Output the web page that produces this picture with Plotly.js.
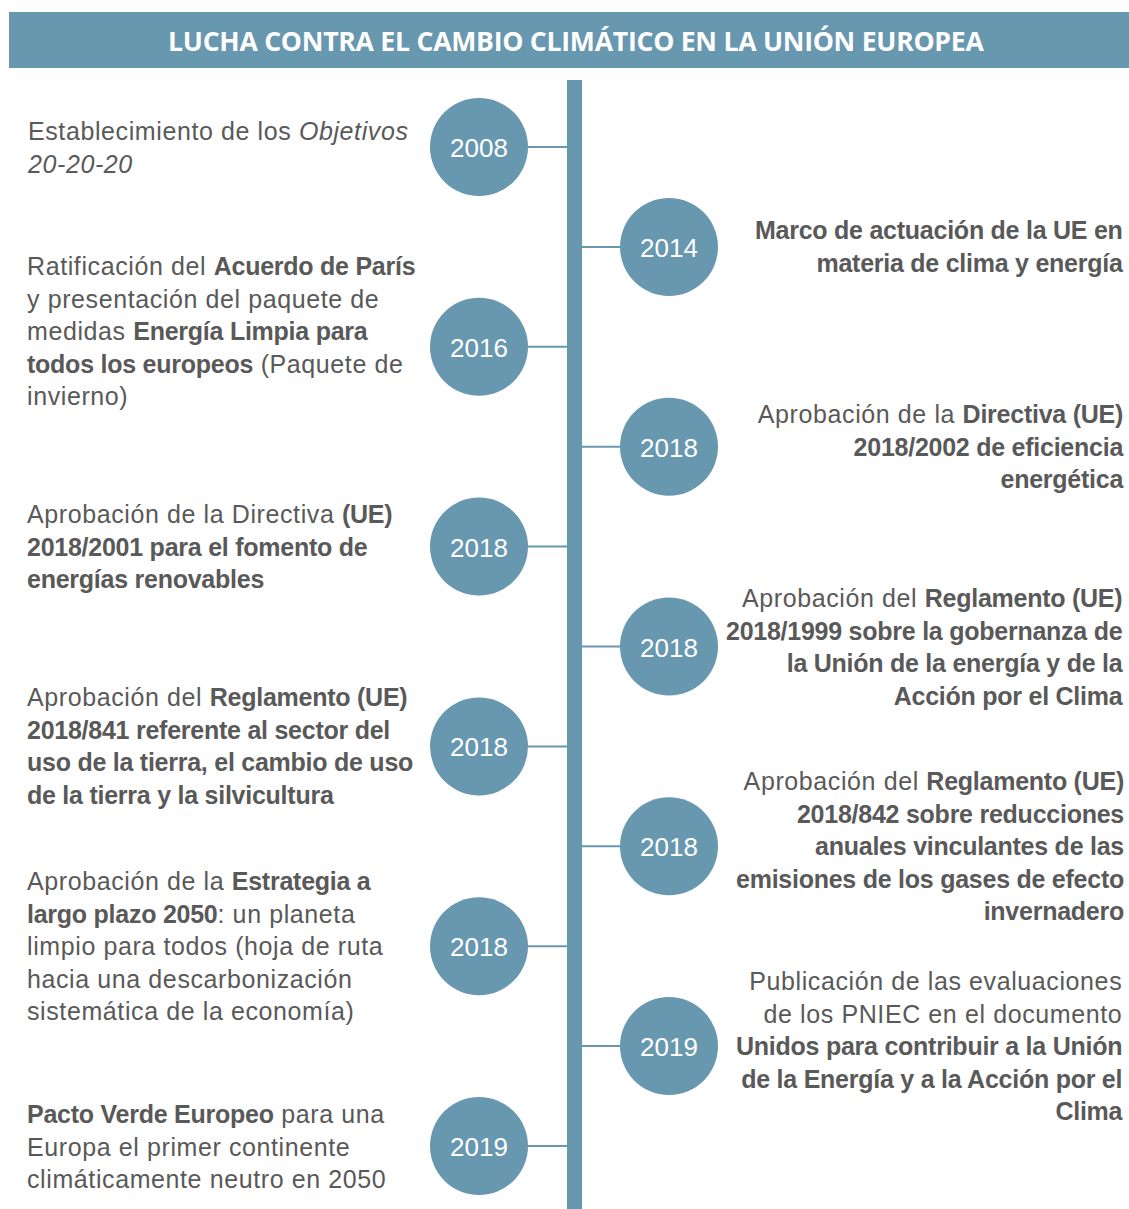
<!DOCTYPE html>
<html>
<head>
<meta charset="utf-8">
<script src="https://cdn.plot.ly/plotly-3.0.1.min.js"></script>
<style>
html,body{margin:0;padding:0;background:#fff;}
#chart{width:1129px;height:1209px;}
.desc .annotation-text{letter-spacing:0.6px;}
.annotation-text tspan[style*="bold"]{letter-spacing:-0.25px;}
</style>
</head>
<body>
<div id="chart"></div>
<script>
// ---- data ----
const chartTitle = 'LUCHA CONTRA EL CAMBIO CLIMÁTICO EN LA UNIÓN EUROPEA';
const years = ['2008','2014','2016','2018','2018','2018','2018','2018','2018','2019','2019'];
const sides = ['left','right','left','right','left','right','left','right','left','right','left'];
const descriptions = [
  'Establecimiento de los <i>Objetivos</i><br><i>20-20-20</i>',
  '<b>Marco de actuación de la UE en</b><br><b>materia de clima y energía</b>',
  'Ratificación del <b>Acuerdo de París</b><br>y presentación del paquete de<br>medidas <b>Energía Limpia para</b><br><b>todos los europeos</b> (Paquete de<br>invierno)',
  'Aprobación de la <b>Directiva (UE)</b><br><b>2018/2002 de eficiencia</b><br><b>energética</b>',
  'Aprobación de la Directiva <b>(UE)</b><br><b>2018/2001 para el fomento de</b><br><b>energías renovables</b>',
  'Aprobación del <b>Reglamento (UE)</b><br><b>2018/1999 sobre la gobernanza de</b><br><b>la Unión de la energía y de la</b><br><b>Acción por el Clima</b>',
  'Aprobación del <b>Reglamento (UE)</b><br><b>2018/841 referente al sector del</b><br><b>uso de la tierra, el cambio de uso</b><br><b>de la tierra y la silvicultura</b>',
  'Aprobación del <b>Reglamento (UE)</b><br><b>2018/842 sobre reducciones</b><br><b>anuales vinculantes de las</b><br><b>emisiones de los gases de efecto</b><br><b>invernadero</b>',
  'Aprobación de la <b>Estrategia a</b><br><b>largo plazo 2050</b>: un planeta<br>limpio para todos (hoja de ruta<br>hacia una descarbonización<br>sistemática de la economía)',
  'Publicación de las evaluaciones<br>de los PNIEC en el documento<br><b>Unidos para contribuir a la Unión</b><br><b>de la Energía y a la Acción por el</b><br><b>Clima</b>',
  '<b>Pacto Verde Europeo</b> para una<br>Europa el primer continente<br>climáticamente neutro en 2050'
];

// ---- layout constants ----
const W = 1129, H = 1209;
const BLUE = '#6897b0';
const TEXT = '#595959';
const firstY = 147, stepY = 99.9;
const leftCX = 479, rightCX = 669, R = 49;
const barX0 = 567, barX1 = 582, barTop = 80;
const textShift = {2: 16};

const ys = years.map((_, i) => firstY + i * stepY);
const xs = sides.map(s => s === 'left' ? leftCX : rightCX);

const shapes = [
  {type:'rect', xref:'x', yref:'y', x0:9, x1:W, y0:12, y1:68, fillcolor:BLUE, line:{width:0}, layer:'below'},
  {type:'rect', xref:'x', yref:'y', x0:barX0, x1:barX1, y0:barTop, y1:H, fillcolor:BLUE, line:{width:0}, layer:'below'}
];
ys.forEach((y, i) => {
  const left = sides[i] === 'left';
  shapes.push({type:'line', xref:'x', yref:'y',
    x0: left ? leftCX + R - 1 : barX1, x1: left ? barX0 : rightCX - R + 1,
    y0: y, y1: y, line:{color:BLUE, width:2}, layer:'below'});
});

const annotations = [
  {x: 576, y: 41, xref:'x', yref:'y', text: '<b>' + chartTitle + '</b>', showarrow:false,
   font:{family:'Open Sans, sans-serif', size:26.6, color:'#ffffff'}, xanchor:'center', yanchor:'middle'}
];
descriptions.forEach((d, i) => {
  const left = sides[i] === 'left';
  annotations.push({
    x: left ? 25 : 1126, y: ys[i], xref:'x', yref:'y', text: d, showarrow:false,
    xanchor: left ? 'left' : 'right', yanchor:'middle', align: left ? 'left' : 'right',
    yshift: textShift[i] || 0, name:'desc',
    font:{family:'Liberation Sans, Arial, sans-serif', size:25, color:TEXT}
  });
});
years.forEach((yr, i) => {
  annotations.push({
    x: xs[i], y: ys[i], xref:'x', yref:'y', text: yr, showarrow:false,
    xanchor:'center', yanchor:'middle', yshift:-1,
    font:{family:'Liberation Sans, Arial, sans-serif', size:26, color:'#ffffff'}
  });
});

const trace = {
  x: xs, y: ys, type:'scatter', mode:'markers',
  marker:{size: 2*R, color: BLUE, line:{width:0}},
  hoverinfo:'skip'
};

const layout = {
  width: W, height: H, margin:{l:0, r:0, t:0, b:0},
  paper_bgcolor:'#ffffff', plot_bgcolor:'#ffffff',
  xaxis:{range:[0, W], visible:false, fixedrange:true},
  yaxis:{range:[H, 0], visible:false, fixedrange:true},
  showlegend:false, shapes, annotations
};

Plotly.newPlot('chart', [trace], layout, {displayModeBar:false, staticPlot:true}).then(() => {
  // tag description annotations so the spacing style applies only to them
  document.querySelectorAll('.annotation').forEach((g, k) => {
    if (k >= 1 && k <= descriptions.length) g.classList.add('desc');
  });
});
</script>
</body>
</html>
